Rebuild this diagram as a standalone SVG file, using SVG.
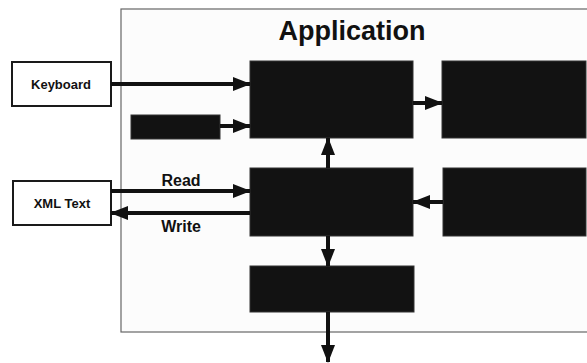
<svg xmlns="http://www.w3.org/2000/svg" width="587" height="363" viewBox="0 0 587 363">
<style>
.white{fill:#fff;stroke:#1a1a1a;stroke-width:2}
.dark{fill:#121212;stroke:#333;stroke-width:1}
.lbl{font-family:"Liberation Sans",Arial,sans-serif;font-weight:bold;fill:#111}
.conn{stroke:#111;stroke-width:4;fill:none}
</style>
<defs>
<marker id="ah" markerUnits="userSpaceOnUse" markerWidth="18" markerHeight="14" refX="17" refY="7" orient="auto">
<path d="M0,0 L18,7 L0,14 Z" fill="#111"/>
</marker>
</defs>
<rect width="587" height="363" fill="#fff"/>
<g id="application">
<rect x="121" y="9" width="470" height="323" fill="#fcfcfc" stroke="#666" stroke-width="1.2"/>
<text class="lbl" x="352" y="40" font-size="27" text-anchor="middle">Application</text>
</g>
<g id="keyboard">
<rect class="white" x="12" y="62" width="99" height="44"/>
<text class="lbl" x="61" y="89" font-size="13" text-anchor="middle">Keyboard</text>
</g>
<g id="xmltext">
<rect class="white" x="13" y="181" width="98" height="44"/>
<text class="lbl" x="62" y="208" font-size="13" text-anchor="middle">XML Text</text>
</g>
<g id="boxA"><rect class="dark" x="250" y="61" width="163" height="77"/></g>
<g id="boxB"><rect class="dark" x="442" y="61" width="144" height="77"/></g>
<g id="boxC"><rect class="dark" x="131" y="115" width="89" height="24"/></g>
<g id="boxD"><rect class="dark" x="250" y="168" width="163" height="68"/></g>
<g id="boxE"><rect class="dark" x="443" y="168" width="143" height="68"/></g>
<g id="boxF"><rect class="dark" x="250" y="266" width="164" height="46"/></g>
<g id="connectors">
<line class="conn" x1="111" y1="84" x2="250" y2="84" marker-end="url(#ah)"/>
<line class="conn" x1="220" y1="126" x2="250" y2="126" marker-end="url(#ah)"/>
<line class="conn" x1="413" y1="103" x2="442" y2="103" marker-end="url(#ah)"/>
<line class="conn" x1="328" y1="168" x2="328" y2="138" marker-end="url(#ah)"/>
<line class="conn" x1="111" y1="191" x2="250" y2="191" marker-end="url(#ah)"/>
<line class="conn" x1="250" y1="213" x2="111" y2="213" marker-end="url(#ah)"/>
<line class="conn" x1="443" y1="202" x2="413" y2="202" marker-end="url(#ah)"/>
<line class="conn" x1="328" y1="236" x2="328" y2="266" marker-end="url(#ah)"/>
<line class="conn" x1="328" y1="312" x2="328" y2="362" marker-end="url(#ah)"/>
<text class="lbl" x="181" y="186" font-size="16" text-anchor="middle">Read</text>
<text class="lbl" x="181" y="232" font-size="16" text-anchor="middle">Write</text>
</g>
</svg>
